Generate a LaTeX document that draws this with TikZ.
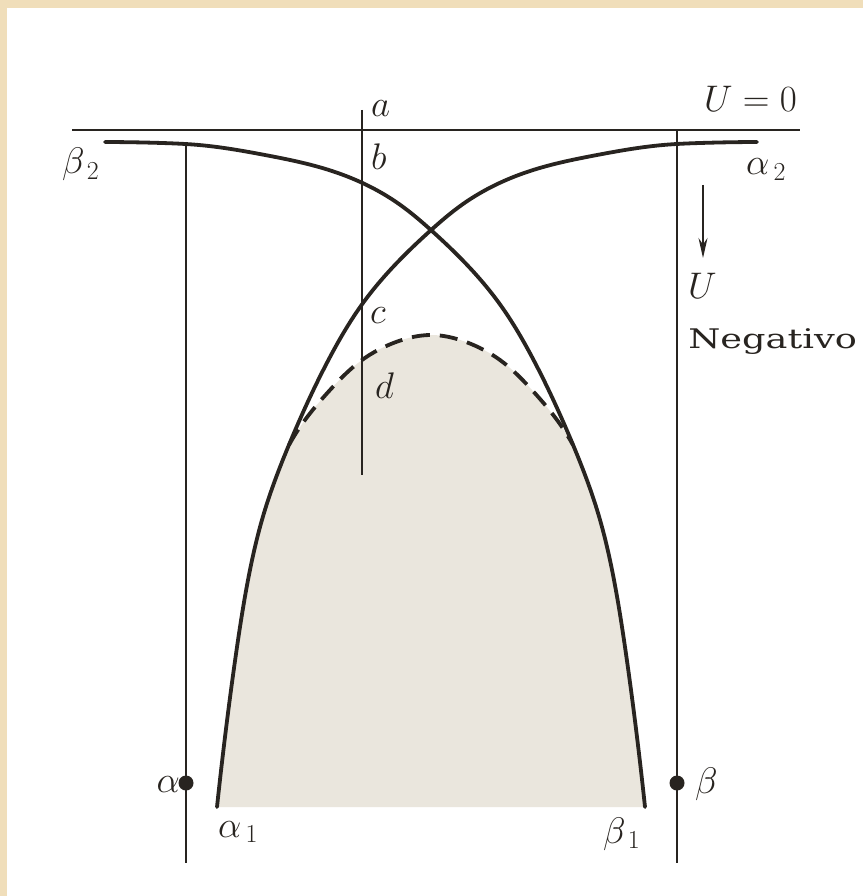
\RequirePackage{fix-cm}
\documentclass[tikz,border=0pt]{standalone}
\usepackage{fontspec}
\newfontfamily\negfont{DejaVu Serif}
\usetikzlibrary{arrows.meta,hobby}
\definecolor{ink}{RGB}{40,36,32}
\definecolor{paper}{RGB}{240,222,186}
\definecolor{shadefill}{RGB}{234,230,221}
\begin{document}
\begin{tikzpicture}[x=1pt,y=-1pt,
  thinline/.style={draw=ink, line width=1.8pt},
  curveline/.style={draw=ink, line width=3.8pt, line cap=round},
  dashline/.style={draw=ink, line width=3.8pt, dash pattern=on 18pt off 10pt},
  lab/.style={font=\fontsize{37}{44}\selectfont, text=ink, inner sep=0pt},
  neglab/.style={font=\negfont\fontsize{27}{32}\selectfont, text=ink, inner sep=0pt, xscale=1.36},
  dot/.style={circle, fill=ink, draw=none, minimum size=15pt, inner sep=0pt}]
\useasboundingbox (0,0) rectangle (863,896);
\fill[paper] (0,0) rectangle (863,896);
\fill[white] (7,8) rectangle (863,896);

% shaded region
\fill[shadefill] (217,807) to[curve through={(228,713) .. (237,647) .. (248,580) .. (264,513) .. (289,445)
  .. (300,427) .. (330,390) .. (362,360) .. (396,342) .. (431,335) .. (466,342) .. (500,360)
  .. (532,390) .. (562,427) .. (573,445)
  .. (598,513) .. (614,580) .. (625,647) .. (634,713)}] (645,807) -- cycle;

% axis line U=0
\coordinate (hl) at (72,130);
\coordinate (hr) at (800,130);
\draw[thinline] (hl) -- (hr);

% vertical lines
\coordinate (vt) at (362,110);
\coordinate (vb) at (362,475);
\draw[thinline] (vt) -- (vb);
\coordinate (lt) at (186,142);
\coordinate (lb) at (186,863);
\draw[thinline] (lt) -- (lb);
\coordinate (rt) at (677,130);
\coordinate (rb) at (677,863);
\draw[thinline] (rt) -- (rb);

% alpha curve
\coordinate (a1) at (217,807);
\coordinate (a2) at (757,142);
\draw[curveline] (a1) to[curve through={(228,713) .. (237,647) .. (248,580) .. (264,513) .. (291,440) .. (330,357)
  .. (363,303) .. (430,231) .. (463,204) .. (530,171) .. (597,155) .. (663,145)
  .. (700,143)}] (a2);
% beta curve
\coordinate (b1) at (645,807);
\coordinate (b2) at (105,142);
\draw[curveline] (b1) to[curve through={(634,713) .. (625,647) .. (614,580) .. (598,513) .. (571,440) .. (532,357)
  .. (499,303) .. (432,231) .. (399,204) .. (332,171) .. (265,155) .. (199,145)
  .. (162,143)}] (b2);

% dashed curve
\coordinate (d1) at (289,445);
\coordinate (d2) at (573,445);
\draw[dashline] (d1) to[curve through={(300,427) .. (330,390) .. (362,360) .. (396,342) .. (431,335) .. (466,342)
  .. (500,360) .. (532,390) .. (562,427)}] (d2);

% arrow
\coordinate (ua) at (703,185);
\coordinate (ub) at (703,258);
\draw[draw=ink, line width=1.5pt, -{Stealth[length=20pt,width=9pt]}] (ua) -- (ub);

% dots
\node[dot] (adot) at (186,783) {};
\node[dot] (bdot) at (677,783) {};

% labels
\node[lab, anchor=base west] (la) at (371,117) {$a$};
\node[lab, anchor=base east] (lU0) at (797,112) {$U=0$};
\node[lab, anchor=base west] (lb) at (371,170) {$b$};
\node[lab, anchor=base west] (lc) at (370,323) {$c$};
\node[lab, anchor=base west] (ld) at (375,398) {$d$};
\node[lab, anchor=base west] (lbeta2) at (62,174) {$\beta_{\,2}$};
\node[lab, anchor=base west] (lalpha2) at (746,175) {$\alpha_{\,2}$};
\node[lab, anchor=base west] (lU) at (688,298) {$U$};
\node[neglab, anchor=base west] (lneg) at (688,348) {Negativo};
\node[lab, anchor=base east] (lalpha) at (180,792) {$\alpha$};
\node[lab, anchor=base west] (lbeta) at (695,793) {$\beta$};
\node[lab, anchor=base west] (lalpha1) at (218,837) {$\alpha_{\,1}$};
\node[lab, anchor=base west] (lbeta1) at (603,843) {$\beta_{\,1}$};
\end{tikzpicture}
\end{document}
